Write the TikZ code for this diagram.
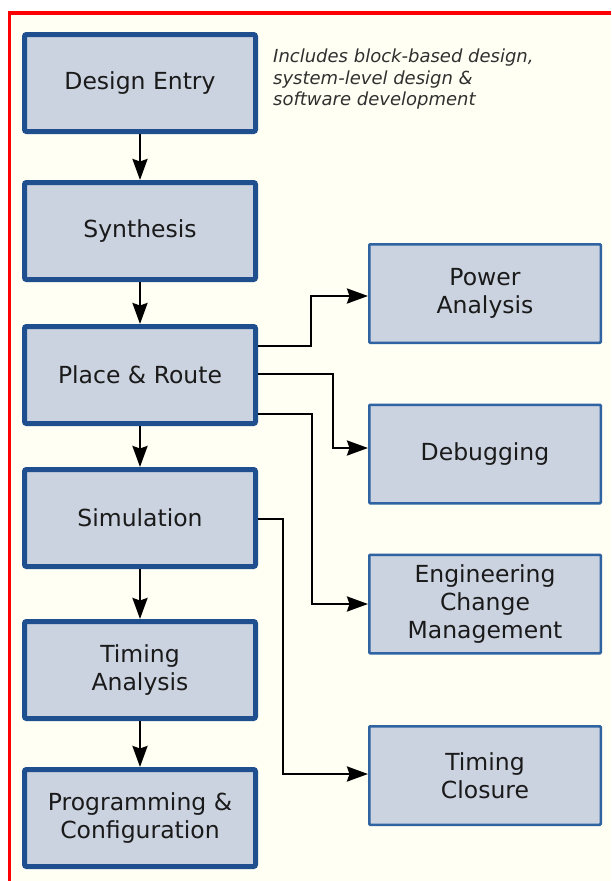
\documentclass[tikz,border=0pt]{standalone}
\usepackage{fontspec}
\setmainfont{DejaVu Sans}
\usetikzlibrary{arrows.meta}
\definecolor{bg}{HTML}{FFFFF3}
\definecolor{boxfill}{HTML}{CBD3E0}
\definecolor{boxline}{HTML}{1F4F8E}
\definecolor{sideline}{HTML}{3063A2}
\definecolor{txt}{HTML}{1A1A1A}
\definecolor{notetxt}{HTML}{303030}
\begin{document}
\begin{tikzpicture}[x=1pt,y=-1pt,
  flowbox/.style={draw=boxline, line width=5pt, fill=boxfill, rounded corners=2pt,
    minimum width=231pt, minimum height=97pt, inner sep=0pt, align=center,
    font=\fontsize{23.5}{28}\selectfont, text=txt},
  sidebox/.style={draw=sideline, line width=2.5pt, fill=boxfill, rounded corners=1pt,
    minimum width=231.5pt, minimum height=98.5pt, inner sep=0pt, align=center,
    font=\fontsize{23.5}{28}\selectfont, text=txt},
  conn/.style={line width=2.6pt, draw=black, -{Stealth[length=21pt,width=15pt,inset=2.5pt]}},
  notestyle/.style={anchor=north west, align=left, inner sep=0pt,
    font=\fontsize{18}{21.5}\selectfont\itshape, text=notetxt}]
\path[use as bounding box] (0,0) rectangle (611,881);
\fill[white] (0,0) rectangle (611,881);
\fill[bg] (9.5,13) rectangle (611,881);
\draw[red, line width=3.5pt] (9.5,881) -- (9.5,13) -- (611,13);

% main flow
\node[flowbox] (de) at (140,83) {Design Entry};
\node[flowbox] (sy) at (140,231) {Synthesis};
\node[flowbox] (pr) at (140,375) {Place \& Route};
\node[flowbox] (si) at (140,518) {Simulation};
\node[flowbox] (ta) at (140,670) {Timing\\Analysis};
\node[flowbox] (pc) at (140,818) {Programming \&\\Configuration};

% side tasks
\node[sidebox] (pa) at (485,293.5) {Power\\Analysis};
\node[sidebox] (db) at (485,454) {Debugging};
\node[sidebox] (ec) at (485,604) {Engineering\\Change\\Management};
\node[sidebox] (tc) at (485,775.5) {Timing\\Closure};

% note
\node[notestyle] (note) at (273,49) {Includes block-based design,\\system-level design \&\\software development};

% vertical connectors
\draw[conn] (de) -- (sy);
\draw[conn] (sy) -- (pr);
\draw[conn] (pr) -- (si);
\draw[conn] (si) -- (ta);
\draw[conn] (ta) -- (pc);

% side connectors
\draw[conn] (pr.east |- 0,346) -- (311,346) -- (311,296) -- (pa.west |- 0,296);
\draw[conn] (pr.east |- 0,374) -- (333,374) -- (333,448) -- (db.west |- 0,448);
\draw[conn] (pr.east |- 0,414) -- (312,414) -- (312,604) -- (ec.west |- 0,604);
\draw[conn] (si.east |- 0,519) -- (283,519) -- (283,774) -- (tc.west |- 0,774);
\end{tikzpicture}
\end{document}
